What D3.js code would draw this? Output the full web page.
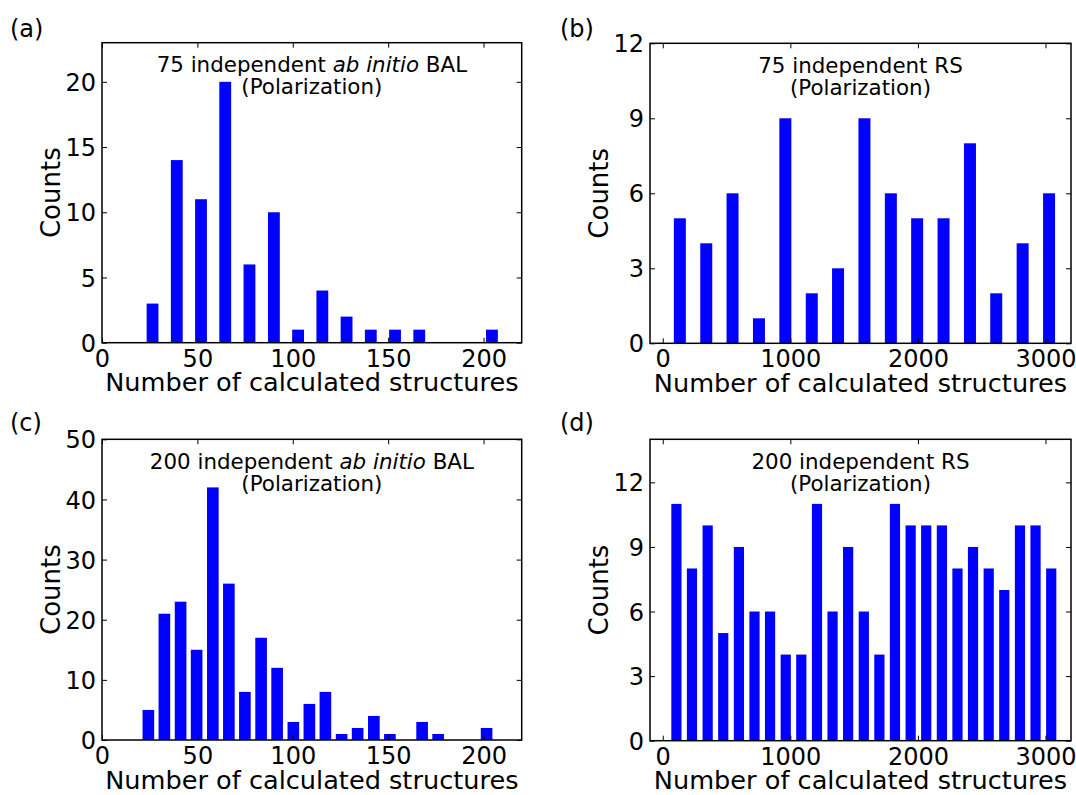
<!DOCTYPE html>
<html>
<head>
<meta charset="utf-8">
<script src="https://cdn.jsdelivr.net/npm/d3@7"></script>
<style>
  html, body { margin: 0; padding: 0; background: #ffffff; }
  svg { display: block; font-family: "DejaVu Sans", sans-serif; }
</style>
</head>
<body>
<svg id="fig" width="1076" height="795"></svg>
<script>
// Histogram bin centres (number of calculated structures) and counts
const balCenters75 = [26.5, 39.2, 51.9, 64.6, 77.3, 90.1, 102.8, 115.5, 128.2, 140.9, 153.6, 166.3, 179.0, 191.7, 204.4];
const balCounts75  = [3, 14, 11, 20, 6, 10, 1, 4, 2, 1, 1, 1, 0, 0, 1];

const rsCenters75 = [134, 341, 547, 754, 961, 1168, 1374, 1581, 1788, 1994, 2201, 2408, 2614, 2821, 3028];
const rsCounts75  = [5, 4, 6, 1, 9, 2, 3, 9, 6, 5, 5, 8, 2, 4, 6];

const balCenters200 = [24.3, 32.7, 41.2, 49.6, 58.1, 66.5, 74.9, 83.4, 91.8, 100.3, 108.7, 117.1,
                       125.6, 134.0, 142.5, 150.9, 159.3, 167.8, 176.2, 184.7, 193.1, 201.6];
const balCounts200  = [5, 21, 23, 15, 42, 26, 8, 17, 12, 3, 6, 8, 1, 2, 4, 1, 0, 3, 1, 0, 0, 2];

const rsCenters200 = [107, 229, 352, 474, 597, 719, 841, 964, 1086, 1209, 1331, 1453, 1576,
                      1698, 1820, 1943, 2065, 2188, 2310, 2432, 2555, 2677, 2800, 2922, 3045];
const rsCounts200  = [11, 8, 10, 5, 9, 6, 6, 4, 4, 11, 6, 9, 6, 4, 11, 10, 10, 10, 8, 9, 8, 7, 10, 10, 8];

// Tick values
const balXTicks = [0, 50, 100, 150, 200];
const rsXTicks  = [0, 1000, 2000, 3000];
const yTicksA = [0, 5, 10, 15, 20];
const yTicksB = [0, 3, 6, 9, 12];
const yTicksC = [0, 10, 20, 30, 40, 50];
const yTicksD = [0, 3, 6, 9, 12];

const svg = d3.select("#fig");

const panels = [
  { tag: "(a)", tagX: 10, tagY: 37,
    box: { l: 102, r: 521.7, t: 42.7, b: 342.7 }, xDom: [0, 220], yDom: [0, 23],
    centers: balCenters75, counts: balCounts75, barW: 6.2,
    xTicks: balXTicks, yTicks: yTicksA,
    title: [["75 independent ", false], ["ab initio", true], [" BAL", false]] },
  { tag: "(b)", tagX: 560, tagY: 37,
    box: { l: 650, r: 1071, t: 43.3, b: 343.3 }, xDom: [-100, 3200], yDom: [0, 12],
    centers: rsCenters75, counts: rsCounts75, barW: 94,
    xTicks: rsXTicks, yTicks: yTicksB,
    title: [["75 independent RS", false]] },
  { tag: "(c)", tagX: 10, tagY: 431,
    box: { l: 102, r: 521.7, t: 439.3, b: 740 }, xDom: [0, 220], yDom: [0, 50],
    centers: balCenters200, counts: balCounts200, barW: 6.1,
    xTicks: balXTicks, yTicks: yTicksC,
    title: [["200 independent ", false], ["ab initio", true], [" BAL", false]] },
  { tag: "(d)", tagX: 560, tagY: 431,
    box: { l: 650, r: 1071, t: 439.3, b: 740.7 }, xDom: [-100, 3200], yDom: [0, 14],
    centers: rsCenters200, counts: rsCounts200, barW: 80,
    xTicks: rsXTicks, yTicks: yTicksD,
    title: [["200 independent RS", false]] }
];

panels.forEach(p => {
  const { l, r, t, b } = p.box;
  const x = d3.scaleLinear().domain(p.xDom).range([l, r]);
  const y = d3.scaleLinear().domain(p.yDom).range([b, t]);
  const g = svg.append("g");

  // bars
  g.selectAll("rect.bar")
    .data(p.centers.map((c, i) => ({ c, n: p.counts[i] })).filter(d => d.n > 0))
    .join("rect")
    .attr("class", "bar")
    .attr("x", d => x(d.c - p.barW / 2))
    .attr("width", d => x(d.c + p.barW / 2) - x(d.c - p.barW / 2))
    .attr("y", d => y(d.n))
    .attr("height", d => y(0) - y(d.n))
    .attr("fill", "#0000ff");

  // axes with inward ticks on all four sides
  const tickLen = 5;
  const fmt = d3.format("d");
  const xb = g.append("g").attr("transform", `translate(0,${b})`)
    .call(d3.axisBottom(x).tickValues(p.xTicks).tickSize(-tickLen).tickFormat(fmt));
  const xt = g.append("g").attr("transform", `translate(0,${t})`)
    .call(d3.axisTop(x).tickValues(p.xTicks).tickSize(-tickLen).tickFormat(""));
  const yl = g.append("g").attr("transform", `translate(${l},0)`)
    .call(d3.axisLeft(y).tickValues(p.yTicks).tickSize(-tickLen).tickFormat(fmt));
  const yr = g.append("g").attr("transform", `translate(${r},0)`)
    .call(d3.axisRight(y).tickValues(p.yTicks).tickSize(-tickLen).tickFormat(""));
  [xb, xt, yl, yr].forEach(a => {
    a.select(".domain").remove();
    a.selectAll(".tick line").attr("stroke", "#000").attr("stroke-width", 1);
  });
  xb.selectAll(".tick text")
    .attr("y", 24.2).attr("dy", null)
    .attr("font-size", 24).attr("fill", "#000").attr("font-family", "DejaVu Sans");
  yl.selectAll(".tick text")
    .attr("x", -6).attr("dy", "0.36em")
    .attr("font-size", 24).attr("fill", "#000").attr("font-family", "DejaVu Sans");

  // frame
  g.append("rect")
    .attr("x", l).attr("y", t).attr("width", r - l).attr("height", b - t)
    .attr("fill", "none").attr("stroke", "#000").attr("stroke-width", 1.5);

  // in-plot title, two lines
  const cx = (l + r) / 2;
  const tl = g.append("text").attr("x", cx).attr("y", t + 29.5)
    .attr("text-anchor", "middle").attr("font-size", 21.4).attr("fill", "#000");
  p.title.forEach(([s, it]) => {
    tl.append("tspan").text(s).attr("font-style", it ? "italic" : "normal");
  });
  g.append("text").attr("x", cx).attr("y", t + 51.5)
    .attr("text-anchor", "middle").attr("font-size", 21.4).attr("fill", "#000")
    .text("(Polarization)");

  // axis labels
  g.append("text").attr("x", cx).attr("y", b + 48.5)
    .attr("text-anchor", "middle").attr("font-size", 25.6).attr("fill", "#000")
    .text("Number of calculated structures");
  g.append("text")
    .attr("transform", `translate(${l - 42.5},${(t + b) / 2}) rotate(-90)`)
    .attr("text-anchor", "middle").attr("font-size", 26).attr("fill", "#000")
    .text("Counts");

  // panel tag
  svg.append("text").attr("x", p.tagX).attr("y", p.tagY)
    .attr("font-size", 24).attr("fill", "#000").text(p.tag);
});
</script>
</body>
</html>
